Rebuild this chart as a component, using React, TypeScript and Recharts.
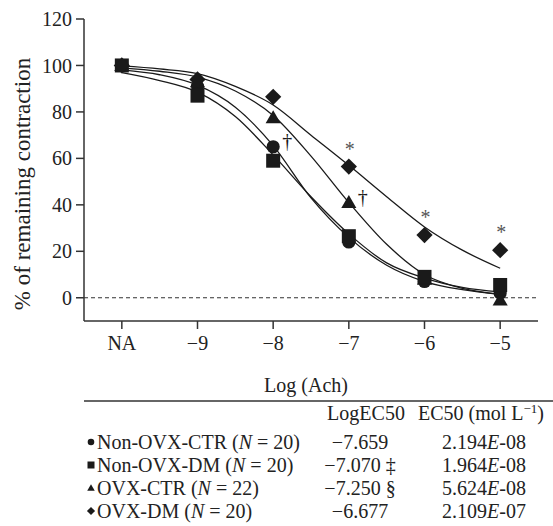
import React from 'react';
import { ComposedChart, Line, Scatter, XAxis, YAxis, ReferenceLine } from 'recharts';

const FONT = 'Liberation Serif, DejaVu Serif, serif';
const INK = '#1a1a1a';

// doses (log M), NA = no agonist
const doses = [-10, -9, -8, -7, -6, -5];
const doseLabels = ['NA', '−9', '−8', '−7', '−6', '−5'];
const yTicks = [0, 20, 40, 60, 80, 100, 120];

// measured points (% of remaining contraction)
const nonOvxCtr = [100, 91, 65, 24, 7, 2];
const nonOvxDm = [100, 87, 59, 26.5, 9, 5.5];
const ovxCtr = [100, 93, 77.5, 41, 8, -1];
const ovxDm = [100, 94, 86.5, 56.5, 27, 20.5];

// significance marks
const nonOvxCtrMarks = ['', '', '†', '', '', ''];
const nonOvxDmMarks = ['', '', '', '', '', ''];
const ovxCtrMarks = ['', '', '', '†', '', ''];
const ovxDmMarks = ['', '', '', '*', '*', '*'];

// fitted curves
const fitDoses = [-10, -9.5, -9, -8.5, -8, -7.5, -7, -6.5, -6, -5.5, -5];
const fitNonOvxCtr = [98.1, 96, 91.5, 82, 65.5, 43, 26, 14, 7, 3.5, 1.5];
const fitNonOvxDm = [96.9, 93.5, 88.5, 78, 61.5, 43.5, 27.5, 15, 8.5, 4.5, 2.5];
const fitOvxCtr = [99, 97.5, 95, 89, 78.5, 61, 41, 23, 10, 4, 1.5];
const fitOvxDm = [99.8, 98.5, 96.5, 91, 83, 70, 57, 43.5, 30.5, 20.5, 12.7];

// table
const groupNames = ['Non-OVX-CTR', 'Non-OVX-DM', 'OVX-CTR', 'OVX-DM'];
const groupN = [20, 20, 22, 20];
const logEC50 = ['−7.659', '−7.070 ‡', '−7.250 §', '−6.677'];
const ec50Mantissa = ['2.194', '1.964', '5.624', '2.109'];
const ec50Exponent = ['-08', '-08', '-08', '-07'];

const toPoints = (ys: number[], marks: string[]) =>
  doses.map((x, i) => ({ x, y: ys[i], mark: marks[i] }));
const toFit = (ys: number[]) => fitDoses.map((x, i) => ({ x, y: ys[i] }));

type Kind = 'circle' | 'square' | 'triangle' | 'diamond';

function glyph(kind: Kind, cx: number, cy: number, s: number) {
  if (kind === 'circle') return <circle cx={cx} cy={cy} r={s * 0.47} fill={INK} />;
  if (kind === 'square')
    return <rect x={cx - s / 2} y={cy - s / 2} width={s} height={s} fill={INK} />;
  if (kind === 'triangle') {
    const w = s * 1.08;
    const h = s * 0.93;
    return (
      <polygon
        points={`${cx},${cy - h * 0.58} ${cx + w / 2},${cy + h * 0.42} ${cx - w / 2},${cy + h * 0.42}`}
        fill={INK}
      />
    );
  }
  const d = s * 0.58;
  return (
    <polygon points={`${cx},${cy - d} ${cx + d},${cy} ${cx},${cy + d} ${cx - d},${cy}`} fill={INK} />
  );
}

const makeShape = (kind: Kind) => (props: any) => {
  const { cx, cy, payload } = props;
  if (cx == null || cy == null) return null;
  const mark = payload?.mark;
  return (
    <g>
      {glyph(kind, cx, cy, 14)}
      {mark === '*' && (
        <text x={cx + 1} y={cy - 11} textAnchor="middle" fontSize={20} fontFamily={FONT} fill="#555">
          *
        </text>
      )}
      {mark === '†' && (
        <text x={cx + 9} y={cy + 1} fontSize={20} fontFamily={FONT} fill={INK}>
          †
        </text>
      )}
    </g>
  );
};

const series: { kind: Kind; pts: number[]; marks: string[]; fit: number[] }[] = [
  { kind: 'circle', pts: nonOvxCtr, marks: nonOvxCtrMarks, fit: fitNonOvxCtr },
  { kind: 'triangle', pts: ovxCtr, marks: ovxCtrMarks, fit: fitOvxCtr },
  { kind: 'square', pts: nonOvxDm, marks: nonOvxDmMarks, fit: fitNonOvxDm },
  { kind: 'diamond', pts: ovxDm, marks: ovxDmMarks, fit: fitOvxDm },
];
const tableKinds: Kind[] = ['circle', 'square', 'triangle', 'diamond'];

const tick = { fill: '#222', fontSize: 20, fontFamily: FONT };

export default function App() {
  const rowY = [443, 466, 489, 512];
  return (
    <div
      style={{
        position: 'absolute',
        left: 0,
        top: 0,
        width: 553,
        height: 526,
        background: '#fff',
        fontFamily: FONT,
      }}
    >
      <ComposedChart width={553} height={526} margin={{ top: 19, right: 15, left: 24, bottom: 165 }}>
        <XAxis
          type="number"
          dataKey="x"
          domain={[-10.5, -4.5]}
          ticks={doses}
          interval={0}
          tickFormatter={(v: number) => doseLabels[doses.indexOf(v)] ?? ''}
          tick={tick}
          tickSize={8}
          tickMargin={7}
          height={40}
          stroke="#333"
          strokeWidth={1.5}
          allowDataOverflow
        />
        <YAxis
          type="number"
          domain={[-10, 120]}
          ticks={yTicks}
          interval={0}
          tick={tick}
          tickSize={8}
          tickMargin={4}
          width={60}
          stroke="#333"
          strokeWidth={1.5}
          allowDataOverflow
        />
        <ReferenceLine y={0} stroke="#333" strokeWidth={1.2} strokeDasharray="4 3" />
        {series.map((s) => (
          <Line
            key={'fit-' + s.kind}
            data={toFit(s.fit)}
            dataKey="y"
            type="monotone"
            dot={false}
            activeDot={false}
            stroke={INK}
            strokeWidth={1.3}
            isAnimationActive={false}
          />
        ))}
        {series.map((s) => (
          <Scatter
            key={'pts-' + s.kind}
            data={toPoints(s.pts, s.marks)}
            dataKey="y"
            shape={makeShape(s.kind)}
            isAnimationActive={false}
          />
        ))}
      </ComposedChart>

      <svg
        width={553}
        height={526}
        style={{ position: 'absolute', left: 0, top: 0, pointerEvents: 'none', fontFamily: FONT }}
        fontSize={20}
        fill="#222"
      >
        <text transform="translate(30,184) rotate(-90)" textAnchor="middle" fontSize={23}>
          % of remaining contraction
        </text>
        <text x={306} y={392} textAnchor="middle">
          Log (Ach)
        </text>
        <line x1={84} x2={553} y1={401} y2={401} stroke="#333" strokeWidth={1.5} />
        <text x={366} y={420} textAnchor="middle">
          LogEC50
        </text>
        <text x={481} y={420} textAnchor="middle">
          EC50 (mol L<tspan dy={-7} fontSize={13}>−1</tspan>
          <tspan dy={7}>)</tspan>
        </text>
        {groupNames.map((name, i) => (
          <g key={name}>
            {glyph(tableKinds[i], 91, rowY[i] - 1, 7)}
            <text x={97} y={rowY[i] + 6}>
              {name} (<tspan fontStyle="italic">N</tspan> = {groupN[i]})
            </text>
            <text x={360} y={rowY[i] + 6} textAnchor="middle">
              {logEC50[i]}
            </text>
            <text x={484} y={rowY[i] + 6} textAnchor="middle">
              {ec50Mantissa[i]}
              <tspan fontStyle="italic">E</tspan>
              {ec50Exponent[i]}
            </text>
          </g>
        ))}
      </svg>
    </div>
  );
}
